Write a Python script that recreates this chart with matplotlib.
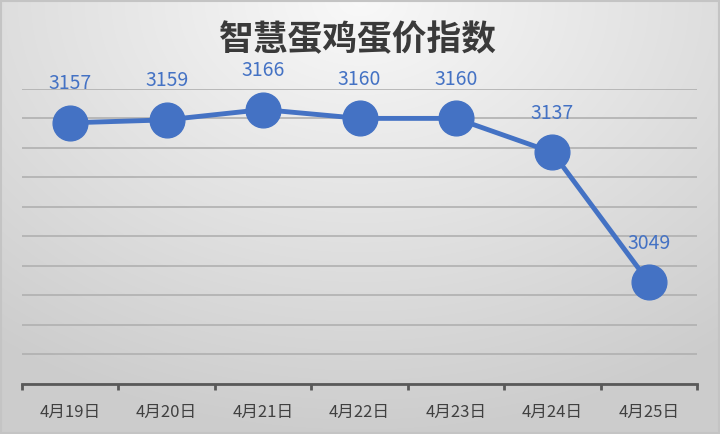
import matplotlib
matplotlib.use("Agg")
import matplotlib.pyplot as plt
import numpy as np

plt.rcParams["font.family"] = ["Noto Sans CJK SC", "DejaVu Sans"]

dates = ["4月19日", "4月20日", "4月21日", "4月22日", "4月23日", "4月24日", "4月25日"]
prices = [3157, 3159, 3166, 3160, 3160, 3137, 3049]
title = "智慧蛋鸡蛋价指数"

BLUE = "#4472C4"
GREY_TXT = "#404040"

fig = plt.figure(figsize=(7.2, 4.34), dpi=100)

# gradient background (light in upper centre, grey towards edges/bottom)
bg = fig.add_axes([0, 0, 1, 1], zorder=-10)
yy, xx = np.mgrid[0:1:434j, 0:1:720j]
dist = np.sqrt(((xx - 0.5) / 0.9) ** 2 + ((yy - 0.0) / 1.1) ** 2)
shade = np.clip(0.975 - 0.19 * dist, 0.80, 1.0)
bg.imshow(np.dstack([shade] * 3), aspect="auto", extent=[0, 1, 0, 1], origin="upper")
bg.set_xlim(0, 1)
bg.set_ylim(0, 1)
bg.axis("off")
bg.add_patch(plt.Rectangle((0.002, 0.003), 0.996, 0.994, fill=False,
                           edgecolor="#c4c4c4", linewidth=1.5))

ax = fig.add_axes([0.0306, 0.1152, 0.9375, 0.680])
ax.patch.set_alpha(0)

x = np.arange(len(dates))
ax.plot(x, prices, color=BLUE, linewidth=3.5, marker="o", markersize=25,
        markerfacecolor=BLUE, markeredgecolor=BLUE, zorder=3)
for xi, v in zip(x, prices):
    ax.annotate(f"{v}", (xi, v), xytext=(0, 28), textcoords="offset points",
                ha="center", va="center", fontsize=14, color=BLUE)

ax.set_xlim(-0.5, len(dates) - 0.5)
ax.set_ylim(2980, 3180)
ax.set_yticks(np.arange(2980, 3181, 20))
ax.yaxis.grid(True, color="#b0b0b0", linewidth=1.2)
ax.set_axisbelow(True)
ax.tick_params(axis="y", length=0, labelleft=False)

ax.set_xticks(x)
ax.set_xticklabels(dates, fontsize=12, color=GREY_TXT)
ax.set_xticks(np.arange(-0.5, len(dates)), minor=True)
ax.tick_params(axis="x", which="major", length=0, pad=14)
ax.tick_params(axis="x", which="minor", length=4, width=2, color="#595959")

for side in ["top", "right", "left"]:
    ax.spines[side].set_visible(False)
ax.spines["bottom"].set_color("#595959")
ax.spines["bottom"].set_linewidth(2)

fig.text(0.497, 0.908, title, ha="center", va="center", fontsize=25,
         fontweight="bold", color="#3a3a3a")

fig.savefig("out.png", dpi=100)
